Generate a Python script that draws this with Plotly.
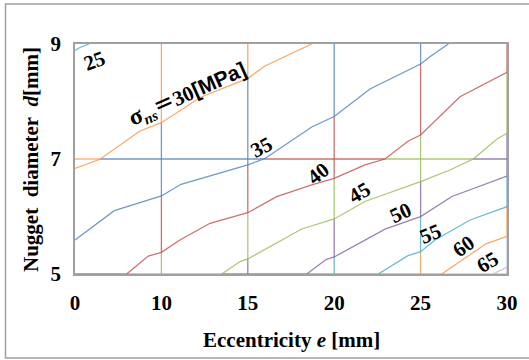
import plotly.graph_objects as go

# ---------------- data ----------------
# x positions are category indices of the eccentricity axis (evenly spaced categories)
x_tick_labels = ["0", "10", "15", "20", "25", "30"]
y_tick_values = [5, 7, 9]

levels = [25, 30, 35, 40, 45, 50, 55, 60, 65]
level_colors = ["#4BACC6", "#F79646", "#4F81BD", "#C0504D", "#9BBB59",
                "#8064A2", "#4BACC6", "#F79646", "#A9C0E0", "#E0A0A0"]

c25_x = [0.0, 0.058, 0.162]
c25_y = [8.887, 8.939, 9.0]
c30_x = [0.0, 0.289, 0.752, 1.0, 1.447, 2.0, 2.199, 2.740]
c30_y = [6.838, 6.995, 7.487, 7.631, 8.070, 8.403, 8.617, 9.0]
c35_x = [0.0, 0.455, 1.0, 1.227, 2.0, 2.199, 2.740, 3.0, 3.414, 4.0, 4.120, 4.321]
c35_y = [5.591, 6.101, 6.357, 6.560, 6.896, 7.009, 7.557, 7.739, 8.217, 8.652, 8.791, 9.0]
c40_x = [0.598, 0.848, 1.0, 1.215, 1.563, 2.0, 2.334, 2.740, 3.0, 3.356, 3.588, 3.858, 4.0, 4.456, 5.0]
c40_y = [5.0, 5.313, 5.377, 5.591, 5.882, 6.066, 6.344, 6.548, 6.664, 6.896, 7.0, 7.313, 7.417, 8.083, 8.508]
c45_x = [1.698, 1.910, 2.0, 2.624, 3.0, 3.356, 4.0, 4.340, 4.610, 4.881, 5.0]
c45_y = [5.0, 5.217, 5.261, 5.783, 5.957, 6.261, 6.605, 6.809, 7.0, 7.343, 7.447]
c50_x = [2.682, 2.905, 3.0, 3.588, 4.0, 4.363, 5.0]
c50_y = [5.0, 5.252, 5.296, 5.779, 5.997, 6.348, 6.704]
c55_x = [3.510, 3.854, 4.0, 4.167, 4.572, 5.0]
c55_y = [5.0, 5.318, 5.388, 5.591, 5.939, 6.170]
c60_x = [4.244, 4.757, 5.0]
c60_y = [5.0, 5.525, 5.656]
c65_x = [4.838, 5.0]
c65_y = [5.0, 5.122]

contours_x = [c25_x, c30_x, c35_x, c40_x, c45_x, c50_x, c55_x, c60_x, c65_x]
contours_y = [c25_y, c30_y, c35_y, c40_y, c45_y, c50_y, c55_y, c60_y, c65_y]

# label text, label position (x idx, y), angle
label_texts = ["25",
               "<span style='font-size:24px'>σ</span><sub><i>ns</i></sub>"
               "<span style='font-family:Noto Sans CJK JP'>＝</span>30"
               "<span style='font-family:Liberation Sans'>[MPa]</span>",
               "35", "40", "45", "50", "55", "60", "65"]
label_x = [0.22, 1.296, 2.164, 2.824, 3.287, 3.762, 4.109, 4.502, 4.780]
label_y = [8.704, 8.148, 7.209, 6.748, 6.409, 6.061, 5.696, 5.487, 5.209]
label_angle = [-20, -24, -28, -38, -30, -25, -22, -35, -30]

W, H = 529, 360
L, R, T, B = 75, 507, 44, 274
XMIN, XMAX, YMIN, YMAX = 0, 5, 5, 9

fig = go.Figure()


def crossings_vertical(k):
    res = []
    for i, (xs, ys) in enumerate(zip(contours_x, contours_y)):
        for j in range(len(xs) - 1):
            x0, x1, y0, y1 = xs[j], xs[j + 1], ys[j], ys[j + 1]
            if min(x0, x1) <= k <= max(x0, x1) and x0 != x1:
                res.append((y0 + (k - x0) / (x1 - x0) * (y1 - y0), i))
                break
    res.sort(key=lambda t: -t[0])  # top to bottom
    return res


def crossings_horizontal(h):
    res = []
    for i, (xs, ys) in enumerate(zip(contours_x, contours_y)):
        for j in range(len(xs) - 1):
            x0, x1, y0, y1 = xs[j], xs[j + 1], ys[j], ys[j + 1]
            if min(y0, y1) <= h <= max(y0, y1) and y0 != y1:
                res.append((x0 + (h - y0) / (y1 - y0) * (x1 - x0), i))
                break
    res.sort(key=lambda t: t[0])  # left to right
    return res


def add_seg(xs, ys, color):
    fig.add_trace(go.Scatter(x=xs, y=ys, mode="lines", line=dict(color=color, width=1.3),
                             opacity=0.8, hoverinfo="skip", showlegend=False, cliponaxis=False))


# wireframe grid lines coloured by band
for k in range(1, 6):
    cr = crossings_vertical(k)
    pts = [YMAX] + [c[0] for c in cr] + [YMIN]
    cols = [level_colors[cr[0][1]]] + [level_colors[c[1]] for c in cr[1:]] + [level_colors[cr[-1][1] + 1]]
    for s in range(len(pts) - 1):
        add_seg([k, k], [pts[s], pts[s + 1]], cols[s])

for h in [5, 7]:
    cr = crossings_horizontal(h)
    pts = [XMIN] + [c[0] for c in cr] + [XMAX]
    cols = [level_colors[cr[0][1]]] + [level_colors[c[1]] for c in cr[1:]] + [level_colors[cr[-1][1] + 1]]
    for s in range(len(pts) - 1):
        add_seg([pts[s], pts[s + 1]], [h, h], cols[s])

# contour lines
for i, (xs, ys) in enumerate(zip(contours_x, contours_y)):
    add_seg(xs, ys, level_colors[i])

serif = "Liberation Serif"
for t, x, y, a in zip(label_texts, label_x, label_y, label_angle):
    fig.add_annotation(x=x, y=y, text="<b>" + t + "</b>", textangle=a, showarrow=False,
                       xanchor="center", yanchor="middle",
                       font=dict(family=serif, size=21, color="black"))


def px2paper_x(p):
    return (p - L) / (R - L)


def px2paper_y(p):
    return (B - p) / (B - T)


fig.add_annotation(xref="paper", yref="paper", x=0.5, y=px2paper_y(340),
                   xanchor="center", yanchor="middle",
                   text="<b>Eccentricity <i>e</i> [mm]</b>", showarrow=False,
                   font=dict(family=serif, size=21, color="black"))
fig.add_annotation(xref="paper", yref="paper", x=px2paper_x(31), y=px2paper_y(160),
                   xanchor="center", yanchor="middle",
                   text="<b>Nugget\u00a0\u00a0diameter\u00a0\u00a0<i>d</i>[mm]</b>", textangle=-90,
                   showarrow=False, font=dict(family=serif, size=21, color="black"))

# outer chart border
fig.add_shape(type="rect", xref="paper", yref="paper",
              x0=px2paper_x(5.5), x1=px2paper_x(531), y0=px2paper_y(358), y1=px2paper_y(4),
              line=dict(color="#A0A0A0", width=1.5), fillcolor="rgba(0,0,0,0)", layer="below")

fig.update_layout(
    width=W, height=H,
    margin=dict(l=L, r=W - R, t=T, b=H - B),
    paper_bgcolor="white", plot_bgcolor="white",
    showlegend=False,
    xaxis=dict(range=[XMIN, XMAX], tickvals=list(range(len(x_tick_labels))), ticktext=x_tick_labels,
               showgrid=False, zeroline=False, showline=True, mirror=True, linecolor="#A0A0A0",
               linewidth=1.5, layer="below traces", ticks="", ticklabelstandoff=9,
               tickfont=dict(family=serif, size=21, color="black", weight="bold"), fixedrange=True),
    yaxis=dict(range=[YMIN, YMAX], tickvals=y_tick_values, ticktext=[str(v) for v in y_tick_values],
               showgrid=False, zeroline=False, showline=True, mirror=True, linecolor="#A0A0A0",
               linewidth=1.5, layer="below traces", ticks="", ticklabelstandoff=8,
               tickfont=dict(family=serif, size=21, color="black", weight="bold"), fixedrange=True),
)

fig.write_html("out.html", config={"displayModeBar": False},
               post_script="document.body.style.margin='0';document.body.style.overflow='hidden';")
